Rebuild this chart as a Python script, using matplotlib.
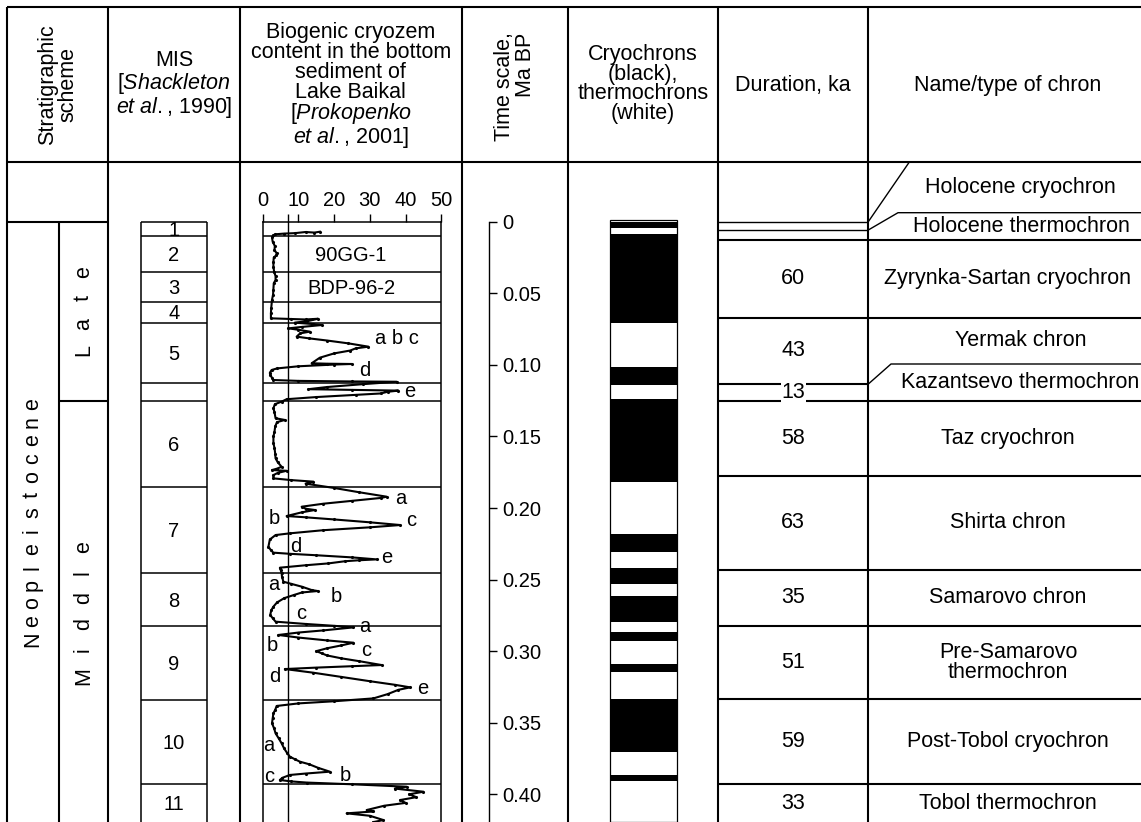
import matplotlib
matplotlib.use("Agg")
import matplotlib.pyplot as plt
import numpy as np

plt.rcParams['font.family'] = ['Liberation Sans', 'DejaVu Sans']
plt.rcParams['mathtext.fontset'] = 'custom'
plt.rcParams['mathtext.rm'] = 'Liberation Sans'
plt.rcParams['mathtext.it'] = 'Liberation Sans:italic'

# ---------------- data ----------------
# marine isotope stages: upper boundaries (Ma) and labels
mis_labels = ['1', '2', '3', '4', '5', '', '6', '7', '8', '9', '10', '11']
mis_bounds = [0.0, 0.0098, 0.0349, 0.0563, 0.0706, 0.1129, 0.1250,
              0.1851, 0.2456, 0.2824, 0.3341, 0.3930]

# stratigraphic scheme (substage tops, Ma)
stage_label = 'Neopleistocene'
substage_labels = ['Late', 'Middle']
substage_bounds = [0.0, 0.125]

# cryochrons (black intervals, Ma)
cryo_start = [0.0, 0.0088, 0.1013, 0.1239, 0.2182, 0.2417, 0.2613, 0.2868, 0.3090, 0.3334, 0.3865]
cryo_end = [0.0046, 0.0706, 0.1141, 0.1816, 0.2309, 0.2533, 0.2798, 0.2927, 0.3148, 0.3707, 0.3905]

# chrons: upper boundaries (Ma), duration (ka), names
chron_bounds = [0.0, 0.0058, 0.0128, 0.0671, 0.1134, 0.1250, 0.1774, 0.2433, 0.2822, 0.3336, 0.3930]
chron_dur = ['', '', '60', '43', '13', '58', '63', '35', '51', '59', '33']
chron_names = ['Holocene cryochron', 'Holocene thermochron', 'Zyrynka-Sartan cryochron',
               'Yermak chron', 'Kazantsevo thermochron', 'Taz cryochron', 'Shirta chron',
               'Samarovo chron', 'Pre-Samarovo\nthermochron', 'Post-Tobol cryochron',
               'Tobol thermochron']

# time scale ticks (Ma)
time_ticks = [0.0, 0.05, 0.10, 0.15, 0.20, 0.25, 0.30, 0.35, 0.40]

# biogenic silica curve, Lake Baikal: age (ka) and content (%)
bio_age = [7.0, 7.6, 7.2, 8.0, 8.3, 8.8, 9.5, 11.0, 14.0, 17.0, 19.8, 22.0, 23.5, 25.0, 28.0,
           31.4, 35.0, 38.0, 40.7, 43.0, 47.7, 51.0, 54.7, 60.0, 64.0, 67.5,
           68.0, 68.3, 67.8, 69.5, 70.5, 71.5, 72.2, 73.5, 74.5, 75.5, 76.8, 78.0, 80.3, 81.5,
           83.0, 85.0, 87.3, 88.5, 90.0, 92.0, 95.0, 98.9, 99.2, 99.4, 99.8, 101.0, 102.5,
           103.6, 105.5, 107.0, 109.0, 110.6, 111.2, 111.6, 111.8, 113.5, 115.5, 117.0,
           117.5, 118.0, 118.8, 120.0, 121.0, 122.5, 124.0, 125.7, 127.5, 130.4, 133.0,
           137.3, 138.5, 140.0, 143.0, 146.7, 150.0, 154.8, 158.0, 162.0, 165.3, 168.0,
           171.2, 172.5, 173.5, 174.0, 175.5, 177.0, 179.3,
           180.5, 181.6, 183.0, 186.0, 189.0, 192.1, 193.0, 195.0, 197.0, 199.1, 200.5,
           201.4, 203.0, 205.6, 206.5, 208.0, 210.0, 211.9, 213.5, 215.5, 217.7, 218.9,
           222.0, 227.0, 229.5, 231.2, 232.0, 233.0, 234.5, 235.9, 236.5, 237.2, 238.7,
           240.0, 241.7, 243.0, 245.6,
           248.0, 251.5, 253.0, 255.0, 257.3, 258.0, 259.0, 260.8, 263.0, 266.0, 268.9,
           271.5, 274.7, 277.0, 279.4, 281.0, 282.3, 283.4, 285.5, 287.0, 288.7, 290.5,
           292.5, 294.1,
           296.0, 298.0, 300.0, 301.5, 303.0, 305.0, 307.0, 309.7, 310.5, 311.5, 312.5,
           315.0, 318.0, 321.0, 323.5, 325.3, 327.0, 330.0, 333.0, 335.0, 336.5, 338.3,
           341.0, 343.4, 347.0, 350.4, 354.0, 357.4, 361.0, 364.4, 368.0, 371.0, 373.7,
           375.5, 377.2, 379.0, 381.5, 384.2, 385.5, 386.5, 388.5, 390.0, 391.0, 391.8,
           393.0, 394.7, 396.0, 398.2, 400.0, 402.0, 404.0, 406.0, 408.0, 411.0, 412.0,
           413.3, 415.0, 418.0, 419.4]
bio_pct = [16.0, 14.5, 12.0, 9.0, 6.0, 3.5, 3.0, 2.6, 2.8, 3.4, 3.3, 3.9, 3.8, 3.1, 3.0,
           3.0, 3.2, 3.6, 3.6, 3.1, 3.0, 2.9, 2.6, 2.4, 2.3, 2.3,
           8.0, 12.0, 15.5, 12.5, 9.0, 14.0, 16.5, 11.0, 7.2, 10.0, 13.2, 10.5, 9.5, 13.0,
           18.0, 24.0, 29.6, 26.0, 24.5, 20.0, 16.0, 13.7, 18.0, 24.9, 20.0, 10.0, 4.0,
           2.5, 2.0, 2.1, 2.6, 3.0, 10.0, 25.0, 37.5, 28.0, 18.0, 12.8,
           25.0, 38.0, 35.0, 33.0, 26.0, 15.0, 6.7, 5.3, 3.4, 3.0, 3.3,
           3.6, 6.2, 4.0, 3.5, 3.3, 3.0, 3.0, 3.3, 3.5, 3.6, 4.2,
           5.3, 4.0, 2.6, 6.7, 4.2, 3.0, 3.0,
           8.0, 14.2, 12.0, 20.0, 27.0, 34.7, 33.0, 25.0, 17.0, 10.9, 12.0,
           14.6, 11.0, 6.7, 12.0, 20.0, 30.0, 38.5, 30.0, 17.0, 7.6, 3.6,
           2.0, 1.6, 2.3, 3.0, 7.6, 15.0, 25.0, 31.9, 27.0, 23.0, 18.4,
           12.0, 4.8, 5.0, 5.3,
           5.4, 5.8, 8.0, 11.0, 13.7, 15.4, 11.0, 8.7, 6.0, 4.0, 3.0,
           2.4, 2.1, 2.8, 3.6, 12.0, 20.0, 25.4, 17.0, 10.0, 4.4, 10.0,
           18.0, 25.4,
           22.0, 18.0, 15.0, 16.5, 18.0, 22.0, 27.0, 33.3, 25.0, 15.0, 6.2,
           14.0, 22.0, 30.0, 37.0, 41.3, 38.0, 35.0, 31.0, 20.0, 10.0, 3.9,
           3.5, 3.0, 2.8, 2.6, 3.2, 3.6, 4.5, 5.3, 6.0, 6.8, 7.6,
           9.0, 10.4, 13.0, 15.5, 18.8, 12.0, 7.6, 5.5, 4.8, 8.0, 12.3,
           25.0, 40.3, 37.0, 45.0, 41.0, 43.0, 38.5, 40.0, 34.0, 29.1, 31.0,
           23.5, 30.0, 33.8, 31.0]

# peak letters on the curve: (text, %, ka)
peak_labels = [('a b c', 37.5, 81.5), ('d', 28.5, 103.6), ('e', 41.1, 118.8),
               ('a', 38.7, 193.2), ('b', 3.2, 207.2), ('c', 41.7, 208.9),
               ('d', 9.3, 227.0), ('e', 34.7, 234.7),
               ('a', 3.2, 253.1), ('b', 20.7, 261.5), ('c', 10.9, 273.6),
               ('a', 28.7, 282.9), ('b', 2.8, 296.2), ('c', 28.9, 299.7),
               ('d', 3.4, 317.4), ('e', 44.8, 326.0),
               ('a', 1.8, 365.6), ('b', 23.1, 386.6), ('c', 1.8, 387.3)]
core_labels = [('90GG-1', 24.5, 23.3), ('BDP-96-2', 24.9, 46.5)]

# ---------------- layout ----------------
W, H, DPI = 1141, 822, 100
PX_PER_MA = 1431.5
Y0 = 221.7          # pixel row of 0 Ma
HEAD_Y = 162.5      # bottom of header row
TOP_Y = 7.3
AGE_TOP = (HEAD_Y - Y0) / PX_PER_MA
AGE_BOT = (H - Y0) / PX_PER_MA
col_x = [7.3, 108.3, 240.0, 461.7, 568.0, 718.3, 868.3]
LW = 1.5
FS = 15.5

fig = plt.figure(figsize=(W / DPI, H / DPI), dpi=DPI)

# frame in pixel units: header and column borders
fr = fig.add_axes([0, 0, 1, 1], facecolor='none')
fr.set_xlim(0, W)
fr.set_ylim(H, 0)
fr.axis('off')
fr.hlines([TOP_Y, HEAD_Y], col_x[0], W, colors='k', lw=LW)
fr.vlines(col_x, TOP_Y, H, colors='k', lw=LW)

hk = dict(ha='center', va='center', fontsize=FS)
fr.text(57.8, 85, 'Stratigraphic\nscheme', rotation=90, linespacing=1.0, **hk)
fr.text(174, 85, 'MIS\n[$\\mathit{Shackleton}$\n$\\mathit{et\\ al.}$, $\\mathit{1990}$]',
        linespacing=1.0, **hk)
fr.text(350.8, 86, 'Biogenic cryozem\ncontent in the bottom\nsediment of\nLake Baikal\n'
        '[$\\mathit{Prokopenko}$\n$\\mathit{et\\ al.}$, $\\mathit{2001}$]',
        linespacing=0.92, **hk)
fr.text(515, 87, 'Time scale,\nMa BP', rotation=90, linespacing=1.0,
        multialignment='right', **hk)
fr.text(643, 84, 'Cryochrons\n(black),\nthermochrons\n(white)', linespacing=0.92, **hk)
fr.text(793.3, 86, 'Duration, ka', **hk)
fr.text(1008, 86, 'Name/type of chron', **hk)

# body: x in pixels, y in Ma
ax = fig.add_axes([0, 0, 1, (H - HEAD_Y) / H], facecolor='none')
ax.set_xlim(0, W)
ax.set_ylim(AGE_BOT, AGE_TOP)
ax.axis('off')


def spaced_vertical(axis, x, yc, word, pitch):
    # letter-spaced text reading bottom to top, centred on yc
    n = len(word)
    for i, ch in enumerate(word):
        axis.text(x, yc + ((n - 1) / 2 - i) * pitch, ch, rotation=90, **hk)


# stratigraphic scheme
ax.hlines(0, col_x[0], col_x[1], colors='k', lw=LW)
ax.vlines(59.3, 0, AGE_BOT, colors='k', lw=LW)
ax.hlines(substage_bounds[1:], 59.3, col_x[1], colors='k', lw=LW)
spaced_vertical(ax, 32.5, AGE_BOT / 2, stage_label, 18.1 / PX_PER_MA)
sub_edges = substage_bounds + [AGE_BOT]
for i, lab in enumerate(substage_labels):
    spaced_vertical(ax, 83.5, (sub_edges[i] + sub_edges[i + 1]) / 2, lab, 25.8 / PX_PER_MA)

# MIS boxes
ax.vlines([140.7, 207.3], 0, AGE_BOT, colors='k', lw=1.1)
ax.hlines(mis_bounds, 140.7, 207.3, colors='k', lw=1.1)
mis_edges = mis_bounds + [AGE_BOT]
for i, lab in enumerate(mis_labels):
    ax.text(174, (mis_edges[i] + mis_edges[i + 1]) / 2 + 0.001, lab,
            ha='center', va='center', fontsize=14.5)

# cryochron / thermochron column
ax.bar(643.7, AGE_BOT + 0.0015, bottom=-0.0015, width=67.3, facecolor='white',
       edgecolor='k', lw=0.9)
ax.bar(643.7, np.array(cryo_end) - np.array(cryo_start), bottom=cryo_start,
       width=67.3, color='black', lw=0)

# duration column
ax.hlines(chron_bounds[:2], col_x[5], col_x[6], colors='k', lw=1.0)
ax.hlines(chron_bounds[2:], col_x[5], col_x[6], colors='k', lw=LW)
chron_edges = chron_bounds + [AGE_BOT]
for i, d in enumerate(chron_dur):
    if d:
        bb = dict(facecolor='white', edgecolor='none', pad=0.5) if d == '13' else None
        ax.text(793.3, (chron_edges[i] + chron_edges[i + 1]) / 2, d, ha='center',
                va='center', fontsize=FS, bbox=bb, zorder=5)

# name column: rows, with pointers where a row is too thin for its name
a_hol = (212.7 - Y0) / PX_PER_MA
a_kaz = (364.0 - Y0) / PX_PER_MA
ax.plot([col_x[6], 909], [chron_bounds[0], AGE_TOP], color='k', lw=1.0)
ax.plot([col_x[6], 898, W], [chron_bounds[1], a_hol, a_hol], color='k', lw=1.0)
ax.plot([col_x[6], 891, W], [chron_bounds[4], a_kaz, a_kaz], color='k', lw=1.0)
row_lines = [chron_bounds[2], chron_bounds[3]] + chron_bounds[5:]
ax.hlines(row_lines, col_x[6], W, colors='k', lw=LW)
name_edges = [AGE_TOP, a_hol, chron_bounds[2], chron_bounds[3], a_kaz] + chron_bounds[5:] + [AGE_BOT]
name_x = [1020, 1021, 1008, 1021, 1020, 1008, 1008, 1008, 1008, 1008, 1008]
for i, nm in enumerate(chron_names):
    ax.text(name_x[i], (name_edges[i] + name_edges[i + 1]) / 2, nm, linespacing=0.95, **hk)

# time scale axis
tax = fig.add_axes([(489.3 - 30) / W, 0, 30 / W, (H - HEAD_Y) / H], facecolor='none')
tax.set_ylim(AGE_BOT, AGE_TOP)
for s in ['left', 'top', 'bottom']:
    tax.spines[s].set_visible(False)
tax.spines['right'].set_bounds(0, AGE_BOT)
tax.spines['right'].set_linewidth(1.0)
tax.set_xticks([])
tax.yaxis.tick_right()
tax.set_yticks(time_ticks)
tax.set_yticklabels(['0'] + ['%.2f' % t for t in time_ticks[1:]])
tax.tick_params(axis='y', direction='out', length=6, width=1.0, labelsize=14.5, pad=3)

# biogenic silica curve
cax = fig.add_axes([262.7 / W, 0, (441.3 - 262.7) / W, (H - Y0) / H], facecolor='none')
cax.set_xlim(0, 50)
cax.set_ylim(AGE_BOT, 0)
cax.spines['bottom'].set_visible(False)
for s in ['left', 'right', 'top']:
    cax.spines[s].set_linewidth(1.1)
cax.xaxis.tick_top()
cax.set_xticks([0, 7, 10, 20, 30, 40, 50])
cax.set_xticklabels(['0', '', '10', '20', '30', '40', '50'])
cax.set_yticks([])
cax.tick_params(axis='x', direction='out', length=5.5, width=1.0, labelsize=14.5, pad=3)
cax.axvline(7, color='k', lw=1.0)
cax.hlines(mis_bounds[1:], 0, 50, colors='k', lw=1.1)
cax.plot(bio_pct, np.array(bio_age) / 1000, color='k', lw=1.5, marker='.', ms=2.5)
for txt, x, ka in peak_labels + core_labels:
    cax.text(x, ka / 1000, txt, ha='center', va='center', fontsize=14.5)

fig.savefig('out.png', dpi=DPI)
